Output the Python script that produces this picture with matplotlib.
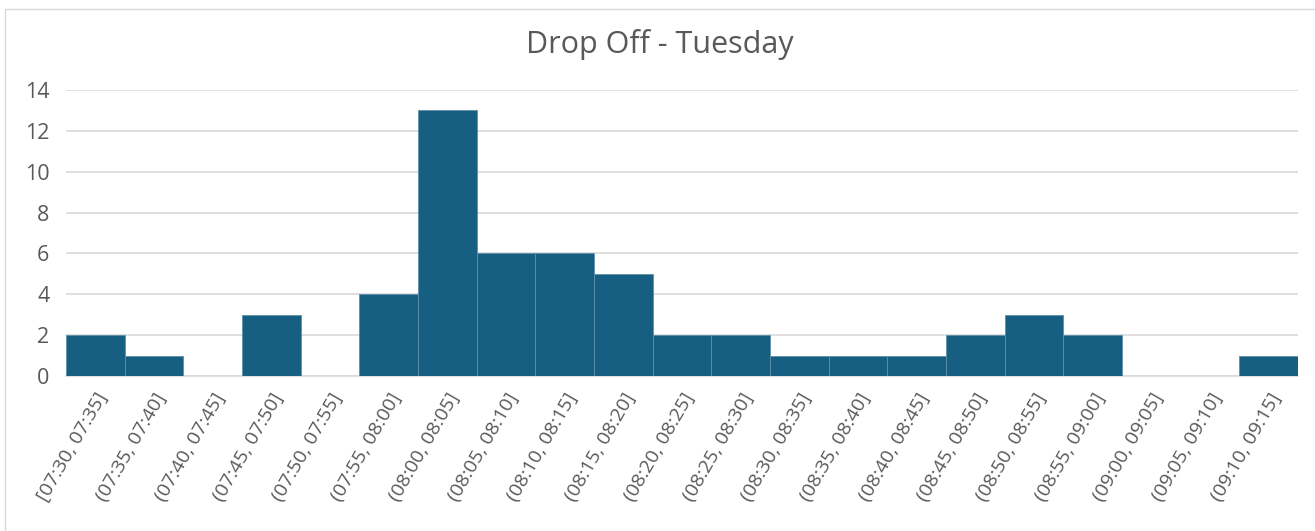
import matplotlib
matplotlib.use("Agg")
from matplotlib import pyplot as plt
from matplotlib.patches import Rectangle

# bin edges (5 minute slots) and counts per slot
bin_starts = ["07:30", "07:35", "07:40", "07:45", "07:50", "07:55", "08:00",
              "08:05", "08:10", "08:15", "08:20", "08:25", "08:30", "08:35",
              "08:40", "08:45", "08:50", "08:55", "09:00", "09:05", "09:10"]
bin_ends = ["07:35", "07:40", "07:45", "07:50", "07:55", "08:00", "08:05",
            "08:10", "08:15", "08:20", "08:25", "08:30", "08:35", "08:40",
            "08:45", "08:50", "08:55", "09:00", "09:05", "09:10", "09:15"]
counts = [2, 1, 0, 3, 0, 4, 13, 6, 6, 5, 2, 2, 1, 1, 1, 2, 3, 2, 0, 0, 1]
y_ticks = [0, 2, 4, 6, 8, 10, 12, 14]

labels = [("[" if i == 0 else "(") + f"{a}, {b}]" for i, (a, b) in enumerate(zip(bin_starts, bin_ends))]

text_col = "#595959"
grid_col = "#d9d9d9"
bar_col = "#175f82"

plt.rcParams["font.family"] = ["Open Sans", "DejaVu Sans"]

W, H = 1315, 531
fig = plt.figure(figsize=(W / 100, H / 100), dpi=100)
fig.patches.append(Rectangle((5 / W, -0.1), 1.2, 1 - 9 / H + 0.1, transform=fig.transFigure,
                             fill=False, edgecolor="#d9d9d9", linewidth=1))

ax = fig.add_axes([66 / W, 1 - 376 / H, (1298 - 66) / W, (376 - 90) / H])
x = list(range(len(counts)))
ax.bar(x, counts, width=1.0, color=bar_col, edgecolor="#5f8fa9", linewidth=0.6, zorder=3)

ax.set_xlim(-0.5, len(counts) - 0.5)
ax.set_ylim(0, 14)
ax.set_yticks(y_ticks)
ax.yaxis.grid(True, color=grid_col, linewidth=1.2, zorder=0)
for s in ["top", "right", "left"]:
    ax.spines[s].set_visible(False)
ax.spines["bottom"].set_color(grid_col)
ax.spines["bottom"].set_linewidth(1.2)
ax.tick_params(axis="y", length=0, pad=12, labelsize=15.5, labelcolor=text_col)
ax.tick_params(axis="x", length=0, pad=10, labelsize=14, labelcolor=text_col)
ax.set_xticks(x)
ax.set_xticklabels(labels, rotation=60, ha="right", va="top", rotation_mode="anchor")
for t in ax.get_xticklabels():
    t.set_x(t.get_position()[0])

fig.text(0.502, 1 - 45 / H, "Drop Off - Tuesday", ha="center", va="center",
         fontsize=22, color=text_col)

plt.savefig("out.png", dpi=100)
